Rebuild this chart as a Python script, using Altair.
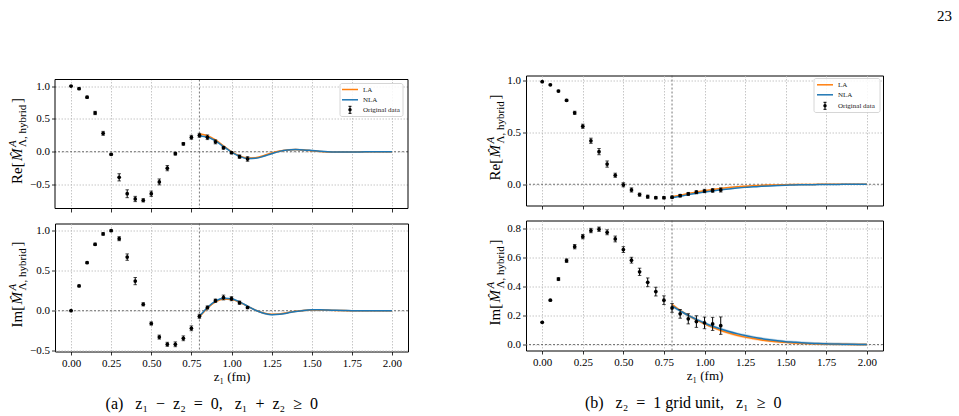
import altair as alt
import pandas as pd

SERIF = "Liberation Serif"
ORANGE = "#ff7f0e"
BLUE = "#1f77b4"

# lattice separations (fm) of the original data and of the extrapolated curves
z_data = [0.0, 0.05, 0.1, 0.15, 0.2, 0.25, 0.3, 0.35, 0.4, 0.45, 0.5, 0.55,
          0.6, 0.65, 0.7, 0.75, 0.8, 0.85, 0.9, 0.95, 1.0, 1.05, 1.1]
z_fit = [0.8, 0.85, 0.9, 0.95, 1.0, 1.05, 1.1, 1.15, 1.2, 1.25, 1.3, 1.35, 1.4,
         1.45, 1.5, 1.55, 1.6, 1.65, 1.7, 1.75, 1.8, 1.85, 1.9, 1.95, 2.0]
x_ticks = [0.0, 0.25, 0.5, 0.75, 1.0, 1.25, 1.5, 1.75, 2.0]

# (a) z1 - z2 = 0
re_a = [1.0, 0.96, 0.83, 0.59, 0.28, -0.04, -0.39, -0.64, -0.72, -0.74, -0.64, -0.46,
        -0.25, -0.03, 0.12, 0.22, 0.25, 0.22, 0.15, 0.06, -0.015, -0.075, -0.11]
re_a_err = [0.005, 0.01, 0.015, 0.025, 0.03, 0.015, 0.055, 0.06, 0.04, 0.025, 0.04, 0.045,
            0.04, 0.02, 0.02, 0.03, 0.03, 0.035, 0.03, 0.02, 0.015, 0.025, 0.035]
re_a_la = [0.27, 0.245, 0.18, 0.09, 0.0, -0.065, -0.095, -0.09, -0.06, -0.02, 0.012, 0.028,
           0.032, 0.026, 0.015, 0.004, -0.003, -0.006, -0.006, -0.004, -0.002, -0.001, 0.0, 0.0, 0.0]
re_a_nla = [0.24, 0.225, 0.165, 0.08, -0.005, -0.07, -0.105, -0.1, -0.07, -0.03, 0.005, 0.025,
            0.032, 0.028, 0.018, 0.007, -0.001, -0.005, -0.006, -0.005, -0.003, -0.002, -0.001, 0.0, 0.0]
im_a = [0.0, 0.31, 0.60, 0.83, 0.96, 1.0, 0.90, 0.67, 0.37, 0.08, -0.16, -0.33,
        -0.42, -0.42, -0.345, -0.22, -0.07, 0.04, 0.125, 0.165, 0.15, 0.10, 0.04]
im_a_err = [0.003, 0.01, 0.01, 0.015, 0.015, 0.01, 0.025, 0.04, 0.045, 0.02, 0.02, 0.025,
            0.025, 0.03, 0.03, 0.03, 0.025, 0.02, 0.02, 0.03, 0.025, 0.02, 0.015]
im_a_la = [-0.08, 0.03, 0.11, 0.145, 0.14, 0.105, 0.055, 0.005, -0.03, -0.045, -0.04, -0.025,
           -0.008, 0.004, 0.009, 0.009, 0.006, 0.003, 0.001, 0.0, -0.001, -0.001, 0.0, 0.0, 0.0]
im_a_nla = [-0.07, 0.04, 0.12, 0.155, 0.148, 0.11, 0.058, 0.005, -0.033, -0.05, -0.045, -0.028,
            -0.01, 0.004, 0.011, 0.012, 0.009, 0.005, 0.002, 0.0, -0.001, -0.001, 0.0, 0.0, 0.0]

# (b) z2 = 1 grid unit
re_b = [0.99, 0.96, 0.90, 0.81, 0.69, 0.56, 0.42, 0.315, 0.195, 0.087, -0.005, -0.055,
        -0.10, -0.12, -0.13, -0.13, -0.125, -0.11, -0.093, -0.077, -0.065, -0.06, -0.055]
re_b_err = [0.003, 0.006, 0.008, 0.01, 0.015, 0.02, 0.025, 0.03, 0.03, 0.02, 0.02, 0.02,
            0.015, 0.015, 0.01, 0.01, 0.01, 0.012, 0.014, 0.015, 0.016, 0.018, 0.02]
re_b_la = [-0.12, -0.105, -0.09, -0.075, -0.062, -0.05, -0.04, -0.032, -0.025, -0.019, -0.014,
           -0.011, -0.008, -0.006, -0.004, -0.003, -0.002, -0.0015, -0.001, -0.001, -0.0005,
           0.0, 0.0, 0.0, 0.0]
re_b_nla = [-0.13, -0.115, -0.1, -0.087, -0.075, -0.064, -0.054, -0.045, -0.037, -0.03, -0.025,
            -0.02, -0.016, -0.012, -0.009, -0.007, -0.005, -0.004, -0.003, -0.002, -0.0015,
            -0.001, -0.0005, 0.0, 0.0]
im_b = [0.153, 0.305, 0.45, 0.577, 0.673, 0.742, 0.784, 0.793, 0.772, 0.726, 0.653, 0.58,
        0.50, 0.428, 0.364, 0.305, 0.252, 0.211, 0.177, 0.158, 0.149, 0.142, 0.13]
im_b_err = [0.003, 0.005, 0.01, 0.012, 0.015, 0.015, 0.015, 0.015, 0.017, 0.02, 0.02, 0.02,
            0.025, 0.03, 0.03, 0.03, 0.03, 0.03, 0.035, 0.04, 0.04, 0.045, 0.06]
im_b_la = [0.275, 0.235, 0.2, 0.17, 0.142, 0.118, 0.097, 0.079, 0.064, 0.051, 0.041, 0.032,
           0.025, 0.019, 0.015, 0.011, 0.008, 0.006, 0.0045, 0.003, 0.002, 0.0015, 0.001, 0.0005, 0.0]
im_b_nla = [0.265, 0.232, 0.2, 0.173, 0.148, 0.126, 0.107, 0.09, 0.075, 0.062, 0.051, 0.041,
            0.033, 0.026, 0.02, 0.016, 0.012, 0.009, 0.007, 0.005, 0.0035, 0.0025, 0.0015, 0.001, 0.0]

one = pd.DataFrame({"k": [0]})


def text_piece(txt, x, y, size, italic=False, align="left"):
    return alt.Chart(one).mark_text(
        text=txt, angle=270, align=align, baseline="alphabetic", font=SERIF,
        fontSize=size, fontStyle="italic" if italic else "normal", color="black",
    ).encode(x=alt.value(x), y=alt.value(y))


def y_title(prefix, s, xb):
    # Re[ M^A_{Lambda, hybrid} ] laid out bottom-to-top, starting at s
    return [
        text_piece(prefix + "[", xb, s, 15),
        text_piece("M\u0302", xb, s - 23, 15, italic=True),
        text_piece("A", xb - 6, s - 37, 11, italic=True),
        text_piece("\u039b, hybrid", xb + 4, s - 37, 11),
        text_piece("]", xb, s - 81, 15),
    ]


def legend(x0, y0, x1, y1, lx0, lx1, tx, rows):
    items = [alt.Chart(one).mark_rect(fill="white", fillOpacity=0.85, stroke="#cccccc",
                                      strokeWidth=0.8, cornerRadius=2)
             .encode(x=alt.value(x0), x2=alt.value(x1), y=alt.value(y0), y2=alt.value(y1))]
    labels = ["LA", "NLA", "Original data"]
    for i, c in enumerate([ORANGE, BLUE]):
        items.append(alt.Chart(one).mark_rule(color=c, strokeWidth=1.5)
                     .encode(x=alt.value(lx0), x2=alt.value(lx1), y=alt.value(rows[i])))
    xm = (lx0 + lx1) / 2
    yd = rows[2]
    items.append(alt.Chart(one).mark_rule(color="black", strokeWidth=1)
                 .encode(x=alt.value(xm), y=alt.value(yd - 3.5), y2=alt.value(yd + 3.5)))
    for dy in (-3.5, 3.5):
        items.append(alt.Chart(one).mark_rule(color="black", strokeWidth=1)
                     .encode(x=alt.value(xm - 1.5), x2=alt.value(xm + 1.5), y=alt.value(yd + dy)))
    items.append(alt.Chart(one).mark_circle(color="black", size=12, opacity=1)
                 .encode(x=alt.value(xm), y=alt.value(yd)))
    for i, lab in enumerate(labels):
        items.append(alt.Chart(one).mark_text(text=lab, align="left", baseline="middle",
                                              font=SERIF, fontSize=7, color="#222")
                     .encode(x=alt.value(tx), y=alt.value(rows[i])))
    return items


def panel(vals, errs, la, nla, band, ydom, yticks, w, h, bottom, prefix, xb,
          leg=None, inset=0):
    pts = pd.DataFrame({
        "z": z_data, "v": vals,
        "lo": [v - e for v, e in zip(vals, errs)],
        "hi": [v + e for v, e in zip(vals, errs)],
    })
    fit = pd.DataFrame({
        "z": z_fit, "la": la, "nla": nla,
        "la_lo": [v - band for v in la], "la_hi": [v + band for v in la],
        "nla_lo": [v - band for v in nla], "nla_hi": [v + band for v in nla],
    })
    xs = alt.Scale(domain=[-0.1, 2.1], nice=False, zero=False)
    ys = alt.Scale(domain=ydom, nice=False, zero=False)
    xax = alt.Axis(values=x_ticks, tickCount=len(x_ticks), format=".2f", labels=bottom,
                   labelOverlap=False)
    yax = alt.Axis(values=yticks, tickCount=len(yticks), format=".1f", labelOverlap=False)

    def X():
        return alt.X("z:Q", scale=xs, axis=xax, title="z\u2081 (fm)" if bottom else None)

    def Y(f):
        return alt.Y(f, type="quantitative", scale=ys, axis=yax, title=None)

    layers = [
        alt.Chart(one).mark_rule(color="#555555", strokeDash=[2, 2], strokeWidth=0.8)
        .encode(y=alt.datum(0)),
        alt.Chart(one).mark_rule(color="#555555", strokeDash=[2, 2], strokeWidth=0.8)
        .encode(x=alt.datum(0.8), y=alt.value(inset), y2=alt.value(h)),
        alt.Chart(fit).mark_area(color=ORANGE, opacity=0.25, interpolate="monotone")
        .encode(x=X(), y=Y("la_lo"), y2="la_hi"),
        alt.Chart(fit).mark_area(color=BLUE, opacity=0.25, interpolate="monotone")
        .encode(x=X(), y=Y("nla_lo"), y2="nla_hi"),
        alt.Chart(fit).mark_line(color=ORANGE, strokeWidth=1.5, interpolate="monotone")
        .encode(x=X(), y=Y("la")),
        alt.Chart(fit).mark_line(color=BLUE, strokeWidth=1.5, interpolate="monotone")
        .encode(x=X(), y=Y("nla")),
        alt.Chart(pts).mark_rule(color="black", strokeWidth=1)
        .encode(x=X(), y=Y("lo"), y2="hi"),
        alt.Chart(pts).mark_tick(color="black", thickness=1, size=3.5, orient="horizontal")
        .encode(x=X(), y=Y("lo")),
        alt.Chart(pts).mark_tick(color="black", thickness=1, size=3.5, orient="horizontal")
        .encode(x=X(), y=Y("hi")),
        alt.Chart(pts).mark_circle(color="black", size=14, opacity=1)
        .encode(x=X(), y=Y("v")),
    ]
    if inset:
        # the frame starts a few pixels below the top of this view
        layers += [
            alt.Chart(one).mark_rect(fill="white", strokeWidth=0)
            .encode(x=alt.value(-0.5), x2=alt.value(w + 0.5),
                    y=alt.value(-0.5), y2=alt.value(inset - 0.5)),
            alt.Chart(one).mark_rect(fillOpacity=0, stroke="black", strokeWidth=1)
            .encode(x=alt.value(0), x2=alt.value(w), y=alt.value(inset), y2=alt.value(h)),
        ]
    if leg is not None:
        layers += legend(*leg)
    layers += y_title(prefix, (h + inset) / 2 + 40, xb)
    ch = alt.layer(*layers).properties(width=w, height=h)
    if inset:
        ch = ch.properties(view=alt.ViewBackground(stroke="transparent"))
    return ch


INSET = 4
a_top = panel(re_a, re_a_err, re_a_la, re_a_nla, 0.012, [-0.865, 1.161],
              [-0.5, 0.0, 0.5, 1.0], 353, 129 + INSET, False, "Re", -33,
              leg=(285, 8, 348, 41, 287, 303, 308, [14, 24.3, 34.3]), inset=INSET)
a_bot = panel(im_a, im_a_err, im_a_la, im_a_nla, 0.01, [-0.51, 1.09],
              [-0.5, 0.0, 0.5, 1.0], 353, 128, True, "Im", -33)
b_top = panel(re_b, re_b_err, re_b_la, re_b_nla, 0.006, [-0.205, 1.05],
              [0.0, 0.5, 1.0], 357, 130, False, "Re", -26,
              leg=(288, 3, 354, 37, 291, 307, 312, [9.3, 19.3, 30.3]))
b_bot = panel(im_b, im_b_err, im_b_la, im_b_nla, 0.01, [-0.041, 0.853],
              [0.0, 0.2, 0.4, 0.6, 0.8], 357, 130, True, "Im", -26)


def caption(txt, dx):
    return alt.TitleParams(text=txt, orient="bottom", anchor="middle", font=SERIF,
                           fontSize=16, fontWeight="normal", color="black", offset=12, dx=dx)


EN = "\u2002"
left = alt.vconcat(a_top, a_bot, spacing=9).properties(
    title=caption("(a)" + EN + " z\u2081" + EN + "\u2212" + EN + "z\u2082" + EN + "=" + EN
                  + "0," + EN + " z\u2081" + EN + "+" + EN + "z\u2082" + EN + "\u2265" + EN + "0",
                  4))
right = alt.vconcat(b_top, b_bot, spacing=9).properties(
    title=caption("(b)" + EN + " z\u2082" + EN + "=" + EN + "1 grid unit," + EN + " z\u2081"
                  + EN + "\u2265" + EN + "0", -1))

chart = alt.hconcat(left, right, spacing=75).properties(
    title=alt.TitleParams(text="23", anchor="end", font=SERIF, fontSize=15,
                          fontWeight="normal", color="black", dx=68, offset=50),
    padding={"left": 6, "top": 8.5, "right": 5, "bottom": 5},
).configure_view(stroke="black", strokeWidth=1).configure_axis(
    labelFont=SERIF, labelFontSize=11, labelColor="black", labelPadding=2,
    titleFont=SERIF, titleFontSize=13, titleFontWeight="normal", titleColor="black",
    titlePadding=2, tickColor="black", tickSize=3.5, tickWidth=0.8, domain=False,
    grid=True, gridColor="#b8b8b8", gridDash=[1.5, 1.5], gridWidth=0.8,
)

chart.save("out.html", embed_options={"renderer": "svg", "actions": False})
